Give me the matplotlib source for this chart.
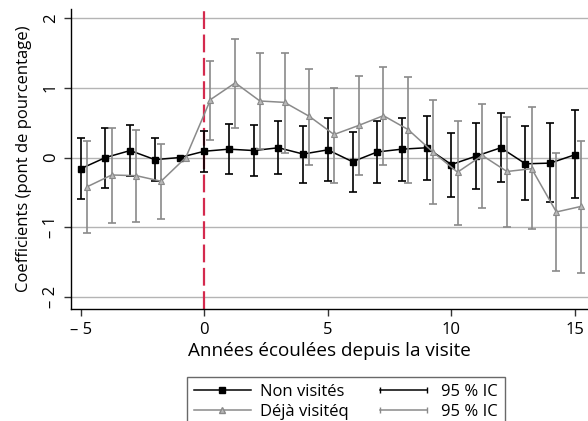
import matplotlib
matplotlib.use("Agg")
import matplotlib.pyplot as plt
from matplotlib.lines import Line2D
from matplotlib.legend_handler import HandlerLine2D
import numpy as np

plt.rcParams['font.family'] = ['Open Sans', 'DejaVu Sans']

years = [-5, -4, -3, -2, -1, 0, 1, 2, 3, 4, 5, 6, 7, 8, 9, 10, 11, 12, 13, 14, 15]

non_visites = [-0.16, 0.00, 0.10, -0.03, 0.00, 0.09, 0.12, 0.10, 0.14, 0.05, 0.11,
               -0.06, 0.08, 0.12, 0.14, -0.10, 0.02, 0.14, -0.09, -0.08, 0.04]
non_lo = [-0.60, -0.44, -0.26, -0.33, None, -0.21, -0.23, -0.27, -0.24, -0.36, -0.33,
          -0.49, -0.36, -0.33, -0.32, -0.56, -0.45, -0.35, -0.61, -0.64, -0.58]
non_hi = [0.28, 0.43, 0.46, 0.28, None, 0.38, 0.48, 0.46, 0.53, 0.45, 0.56,
          0.37, 0.52, 0.57, 0.60, 0.35, 0.49, 0.64, 0.45, 0.49, 0.68]

deja_visite = [-0.42, -0.25, -0.26, -0.34, 0.00, 0.83, 1.07, 0.81, 0.79, 0.59, 0.33,
               0.46, 0.60, 0.40, 0.08, -0.21, 0.03, -0.20, -0.16, -0.78, -0.70]
deja_lo = [-1.08, -0.94, -0.92, -0.88, None, 0.25, 0.42, 0.12, 0.07, -0.10, -0.36,
           -0.25, -0.10, -0.36, -0.67, -0.97, -0.72, -0.99, -1.03, -1.62, -1.65]
deja_hi = [0.23, 0.43, 0.40, 0.20, None, 1.38, 1.70, 1.50, 1.50, 1.27, 1.00,
           1.17, 1.30, 1.15, 0.83, 0.53, 0.76, 0.58, 0.72, 0.06, 0.23]

x_ticks = [-5, 0, 5, 10, 15]
x_ticklabels = ['\u2013 5', '0', '5', '10', '15']
y_ticks = [-2, -1, 0, 1, 2]
y_ticklabels = ['\u2013 2', '\u2013 1', '0', '1', '2']

series_labels = ['Non visités', 'Déjà visitéq']
ci_label = '95 % IC'
xlabel = 'Années écoulées depuis la visite'
ylabel = 'Coefficients (pont de pourcentage)'

BLACK = '#000000'
GRAY = '#8a8a8a'
GRID = '#b4b4b4'
RED = '#d42a4e'
offset = 0.25

fig = plt.figure(figsize=(5.88, 4.21), dpi=100)
ax = fig.add_axes([0.121, 0.266, 0.879, 0.713])

for y in y_ticks:
    ax.axhline(y, color=GRID, lw=1.0, zorder=0)

ax.axvline(0, color=RED, lw=1.6, dashes=(8, 2.5), zorder=1)

def ci_arrays(vals, lo, hi):
    xs, ys, lower, upper = [], [], [], []
    for i, (v, l, h) in enumerate(zip(vals, lo, hi)):
        if l is None:
            continue
        xs.append(i)
        ys.append(v)
        lower.append(v - l)
        upper.append(h - v)
    return xs, ys, [lower, upper]

yrs = np.array(years, dtype=float)

# Non visites
idx, ys, err = ci_arrays(non_visites, non_lo, non_hi)
ax.errorbar(yrs[idx], ys, yerr=err, fmt='none', ecolor=BLACK, elinewidth=1.2,
            capsize=3.0, capthick=1.2, zorder=3)
ax.plot(yrs, non_visites, color=BLACK, lw=1.1, marker='s', markersize=5.0,
        zorder=4)

# Deja visite
idx, ys, err = ci_arrays(deja_visite, deja_lo, deja_hi)
ax.errorbar(yrs[idx] + offset, ys, yerr=err, fmt='none', ecolor=GRAY, elinewidth=1.2,
            capsize=2.6, capthick=1.2, zorder=5)
ax.plot(yrs + offset, deja_visite, color=GRAY, lw=1.1, marker='^', markersize=5.0,
        markerfacecolor='#b8b8b8', markeredgecolor=GRAY, markeredgewidth=0.8, zorder=6)

ax.set_xlim(-5.39, 15.53)
ax.set_ylim(-2.17, 2.13)
ax.set_xticks(x_ticks)
ax.set_xticklabels(x_ticklabels, fontsize=12)
ax.set_yticks(y_ticks)
ax.set_yticklabels(y_ticklabels, fontsize=12, rotation=90, va='center')
ax.tick_params(axis='both', length=5, width=1.0, color='#333333')
ax.tick_params(axis='x', pad=4)
ax.tick_params(axis='y', pad=4)
for s in ['top', 'right']:
    ax.spines[s].set_visible(False)
for s in ['left', 'bottom']:
    ax.spines[s].set_linewidth(1.0)

ax.set_xlabel(xlabel, fontsize=13.6, labelpad=3)
ax.set_ylabel(ylabel, fontsize=12, labelpad=8)

h1 = Line2D([], [], color=BLACK, lw=1.1, marker='s', markersize=4)
h2 = Line2D([], [], color=GRAY, lw=1.1, marker='^', markersize=4,
            markerfacecolor='#b8b8b8', markeredgecolor=GRAY)
c1 = Line2D([], [], color=BLACK, lw=1.1, marker='|', markersize=5)
c2 = Line2D([], [], color=GRAY, lw=1.1, marker='|', markersize=5)
leg = fig.legend([h1, h2, c1, c2],
                 [series_labels[0], series_labels[1], ci_label, ci_label],
                 ncol=2, loc='upper left', bbox_to_anchor=(187 / 588, 1 - 377 / 421),
                 fontsize=12, frameon=True, fancybox=False, edgecolor='#444444',
                 handlelength=3.4, handletextpad=0.55, columnspacing=1.6,
                 borderpad=0.42, borderaxespad=0, labelspacing=0.22,
                 handler_map={c1: HandlerLine2D(numpoints=2),
                              c2: HandlerLine2D(numpoints=2)})
leg.get_frame().set_linewidth(1.0)

fig.savefig('out.png', dpi=100)
